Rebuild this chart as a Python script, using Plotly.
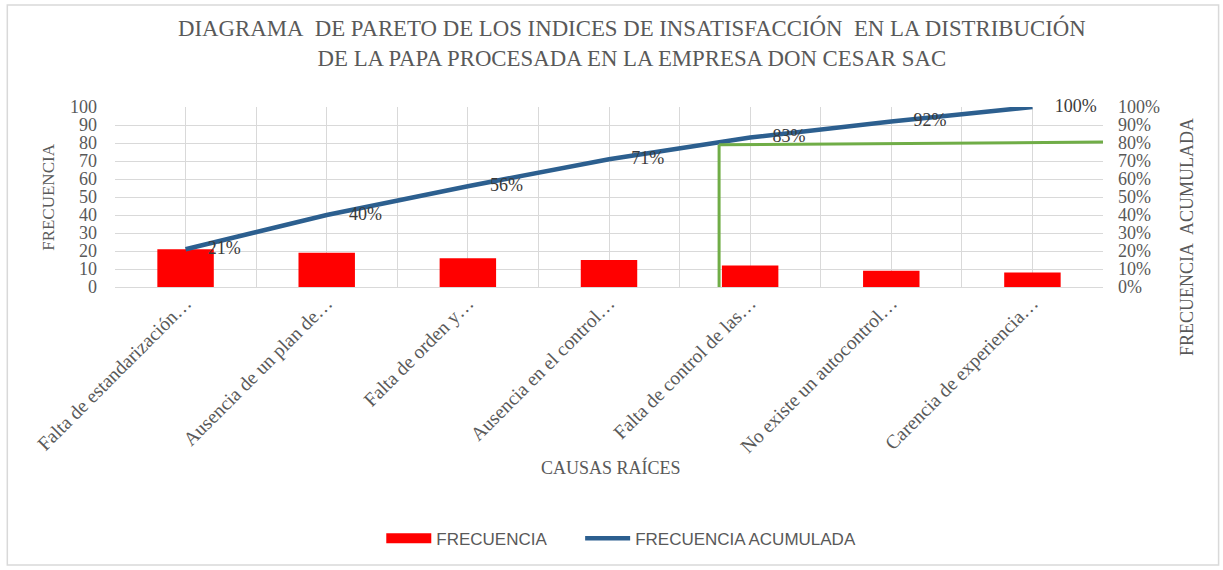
import plotly.graph_objects as go

# Root causes (labels truncated as shown on the axis)
causas = [
    "Falta de estandarización…",
    "Ausencia de un plan de…",
    "Falta de orden y…",
    "Ausencia en el control…",
    "Falta de control de las…",
    "No existe un autocontrol…",
    "Carencia de experiencia…",
]
frecuencia = [21, 19, 16, 15, 12, 9, 8]
frecuencia_acumulada = [0.21, 0.40, 0.56, 0.71, 0.83, 0.92, 1.00]
etiquetas_acumulada = ["21%", "40%", "56%", "71%", "83%", "92%", "100%"]

# 80 % reference line (Pareto cut)
corte_x = 3.78
corte_inicio = 0.79
corte_fin = 0.805

titulo = ("DIAGRAMA\u00a0 DE PARETO DE LOS INDICES DE INSATISFACCIÓN\u00a0 EN LA DISTRIBUCIÓN"
          "<br>DE LA PAPA PROCESADA EN LA EMPRESA DON CESAR SAC")

SERIF = "Liberation Serif"
GRIS = "#595959"
GRID = "#d9d9d9"
ROJO = "#ff0000"
AZUL = "#2c5f8f"
SEP = "\u00a0" * 6  # spacing between legend entries

fig = go.Figure()

fig.add_trace(go.Bar(
    x=causas, y=frecuencia, name="FRECUENCIA",
    marker=dict(color=ROJO, line=dict(width=0)),
    xaxis="x", yaxis="y", showlegend=False, legendgroup="f",
))
# legend swatch for the bars
fig.add_trace(go.Scatter(
    x=[None], y=[None], name="FRECUENCIA" + SEP, mode="lines",
    line=dict(color=ROJO, width=12), legendgroup="f",
    xaxis="x", yaxis="y",
))

fig.add_trace(go.Scatter(
    x=causas, y=frecuencia_acumulada, name="FRECUENCIA ACUMULADA",
    mode="lines+markers+text", text=etiquetas_acumulada, textposition="middle right",
    textfont=dict(family=SERIF, size=18, color="#3a3a3a"),
    marker=dict(size=34, color="rgba(0,0,0,0)"),
    line=dict(color=AZUL, width=4.5),
    cliponaxis=False,
    xaxis="x2", yaxis="y2",
))

# Pareto cut line on the secondary scale
fig.add_shape(type="line", xref="x", yref="y2",
              x0=corte_x, x1=corte_x, y0=0, y1=corte_inicio,
              line=dict(color="#70ad47", width=3))
fig.add_shape(type="line", xref="x", yref="y2",
              x0=corte_x, x1=len(causas) - 0.5, y0=corte_inicio, y1=corte_fin,
              line=dict(color="#70ad47", width=3))

# chart border
fig.add_shape(type="rect", xref="paper", yref="paper",
              x0=-0.109, x1=1.117, y0=-1.545, y1=1.567,
              line=dict(color="#d9d9d9", width=1.5))

fig.update_layout(
    width=1223, height=570,
    margin=dict(l=115, r=120, t=107, b=283),
    paper_bgcolor="white", plot_bgcolor="white",
    bargap=0.6,
    showlegend=True,
    legend=dict(orientation="h", xref="container", x=0.508, xanchor="center",
                yref="container", y=0.055, yanchor="middle",
                font=dict(family="Liberation Sans", size=17, color=GRIS),
                itemwidth=45, traceorder="normal"),
    xaxis=dict(type="category", categoryarray=causas, range=[-0.5, 6.5],
               showgrid=True, gridcolor=GRID, gridwidth=1,
               tickangle=-45, ticks="", showline=False, zeroline=False,
               tickfont=dict(family=SERIF, size=19.5, color=GRIS)),
    xaxis2=dict(type="category", categoryarray=causas, range=[-0.5, 6.5],
                overlaying="x", side="bottom", tickson="boundaries",
                showgrid=True, gridcolor=GRID, gridwidth=1,
                showticklabels=False, ticks="", showline=False, zeroline=False),
    yaxis=dict(range=[0, 100], dtick=10, showgrid=True, gridcolor=GRID,
               zeroline=True, zerolinecolor=GRID, zerolinewidth=1,
               ticks="", ticklabelstandoff=17,
               tickfont=dict(family=SERIF, size=18, color=GRIS)),
    yaxis2=dict(range=[0, 1], dtick=0.1, tickformat=".0%", overlaying="y",
                side="right", showgrid=False, zeroline=False, ticks="",
                ticklabelstandoff=14,
                tickfont=dict(family=SERIF, size=18, color=GRIS)),
    annotations=[
        dict(text=titulo, xref="paper", yref="paper", x=0.523, y=1.353,
             xanchor="center", yanchor="middle", showarrow=False,
             font=dict(family=SERIF, size=22.8, color=GRIS)),
        dict(text="FRECUENCIA", xref="paper", yref="paper", x=-0.068, y=0.5,
             xanchor="center", yanchor="middle",
             textangle=-90, showarrow=False,
             font=dict(family=SERIF, size=17, color=GRIS)),
        dict(text="FRECUENCIA\u00a0 ACUMULADA", xref="paper", yref="paper", x=1.085, y=0.278,
             xanchor="center", yanchor="middle",
             textangle=-90, showarrow=False,
             font=dict(family=SERIF, size=18, color=GRIS)),
        dict(text="CAUSAS RAÍCES", xref="paper", yref="paper", x=0.502, y=-1.0055,
             xanchor="center", yanchor="middle",
             showarrow=False, font=dict(family=SERIF, size=18, color=GRIS)),
    ],
)

fig.write_html("out.html")
